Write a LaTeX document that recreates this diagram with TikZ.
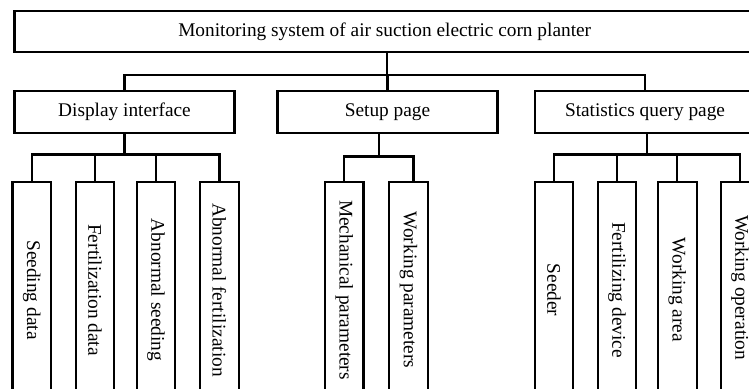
\documentclass[tikz,border=0pt]{standalone}
\usepackage{fontspec}
\setmainfont{Liberation Serif}
\usetikzlibrary{positioning, calc}

\begin{document}
\begin{tikzpicture}[x=0.2mm, y=-0.2mm, line width=1.25pt,
    every node/.style={font=\fontsize{11}{13}\selectfont, draw, inner sep=0pt},
    topbox/.style={minimum width=148.1mm, minimum height=8.3mm},
    pagebox/.style={minimum width=44mm, minimum height=8.4mm},
    leafbox/.style={minimum width=7.74mm, minimum height=43.2mm}]
    \useasboundingbox (0,0) rectangle (749,389);
    \clip (0,0) rectangle (749,389);
    % Sistema
    \node[topbox] (root) at (384.7,31.5) {Monitoring system of air suction electric corn planter};
    % Paginas
    \node[pagebox] (disp) at (124.5,111.7) {Display interface};
    \node[pagebox] (setup) at (387.5,111.7) {Setup page};
    \node[pagebox] (stats) at (645,111.7) {Statistics query page};
    % Folhas
    \foreach \name/\pos/\desc in {
      dl1/31.8/Seeding data,
      dl2/95/Fertilization data,
      dl3/156/Abnormal seeding,
      dl4/219.4/Abnormal fertilization,
      sl1/344.2/Mechanical parameters,
      sl2/408.4/Working parameters,
      ql1/554/Seeder,
      ql2/617/Fertilizing device,
      ql3/677.3/Working area,
      ql4/740/Working operation
    }
    {
      \node[leafbox] (\name) at (\pos,290) {\rotatebox{-90}{\desc}};
    }
    % Barramentos
    \coordinate (rbus) at (387,75);
    \coordinate (dbus) at (124.5,154.5);
    \coordinate (sbus) at (379,156.5);
    \coordinate (qbus) at (647,154.5);
    \coordinate (wtop) at ($(sl2.north)+(5,0)$);
    % Ligacoes do sistema
    \draw (rbus) -- (rbus |- root.south);
    \draw (disp.north) -- (disp.north |- rbus) -| (stats.north);
    \draw (setup.north) -- (setup.north |- rbus);
    % Ligacoes das paginas
    \draw (dbus) -- (dbus |- disp.south);
    \draw (dl1.north) -- (dl1.north |- dbus) -| (dl4.north);
    \foreach \n in {dl2, dl3}
      \draw (\n.north) -- (\n.north |- dbus);
    \draw (sbus) -- (sbus |- setup.south);
    \draw (sl1.north) -- (sl1.north |- sbus) -| (wtop);
    \draw (qbus) -- (qbus |- stats.south);
    \draw (ql1.north) -- (ql1.north |- qbus) -| (ql4.north);
    \foreach \n in {ql2, ql3}
      \draw (\n.north) -- (\n.north |- qbus);
\end{tikzpicture}
\end{document}
